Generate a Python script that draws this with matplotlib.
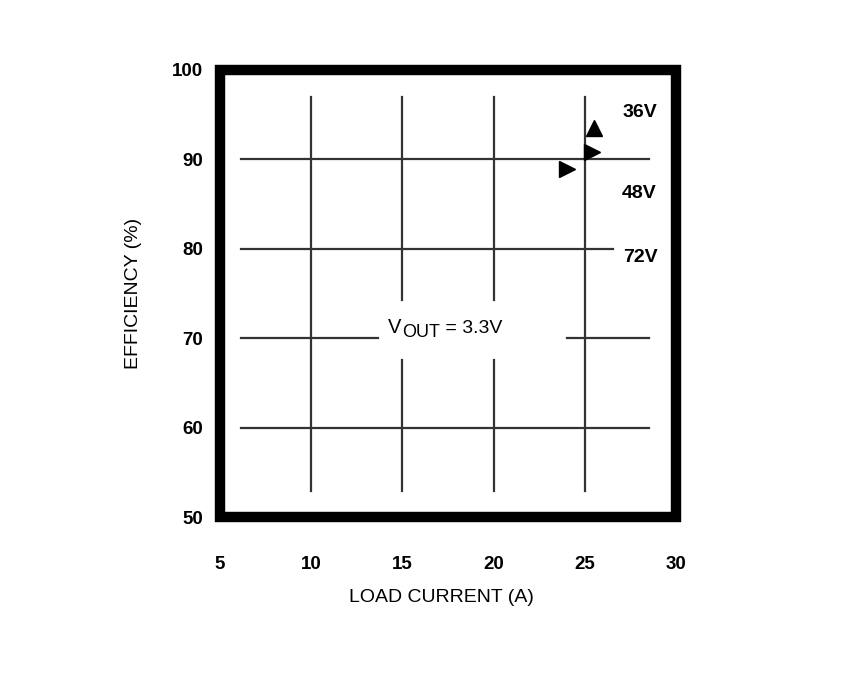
import matplotlib
matplotlib.use("Agg")
import matplotlib.pyplot as plt
from matplotlib.patches import Rectangle
from matplotlib.transforms import offset_copy

plt.rcParams['font.family'] = ['Liberation Sans', 'DejaVu Sans']

# --- axis ticks ---
x_ticks = [5, 10, 15, 20, 25, 30]
y_ticks = [50, 60, 70, 80, 90, 100]

# --- grid segments (as drawn in the datasheet) ---
v_grid_x = [10, 15, 20, 25]
v_grid_span = (52.9, 97.0)
v_gap_x = [15, 20]          # vertical lines broken around the label
v_gap = (67.6, 74.3)

h_grid_y = [60, 70, 80, 90]
h_grid_span = (6.15, 28.55)
h_80_end = 26.55
h_70_gap = (13.66, 24.02)

# --- markers (arrows pointing to the curves) ---
up_marker = [(25.5, 93.5)]
right_markers = [(25.4, 90.8), (24.0, 88.9)]

# --- curve labels ---
curve_labels = ["36V", "48V", "72V"]
curve_label_x = [28.0, 28.0, 28.05]
curve_label_y = [95.2, 86.2, 79.0]

fig = plt.figure(figsize=(8.48, 6.91), dpi=100)
ax = fig.add_axes([0.2594, 0.2518, 0.5377, 0.6469])
ax.set_xlim(5, 30)
ax.set_ylim(50, 100)

grid_kw = dict(color='#333333', lw=1.6, zorder=1)

# vertical grid
for x in v_grid_x:
    if x in v_gap_x:
        ax.plot([x, x], [v_grid_span[0], v_gap[0]], **grid_kw)
        ax.plot([x, x], [v_gap[1], v_grid_span[1]], **grid_kw)
    else:
        ax.plot([x, x], list(v_grid_span), **grid_kw)

# horizontal grid
for y in h_grid_y:
    if y == 80:
        ax.plot([h_grid_span[0], h_80_end], [y, y], **grid_kw)
    elif y == 70:
        ax.plot([h_grid_span[0], h_70_gap[0]], [y, y], **grid_kw)
        ax.plot([h_70_gap[1], h_grid_span[1]], [y, y], **grid_kw)
    else:
        ax.plot(list(h_grid_span), [y, y], **grid_kw)

# markers
ax.plot([p[0] for p in up_marker], [p[1] for p in up_marker], '^',
        color='black', ms=11, zorder=3)
ax.plot([p[0] for p in right_markers], [p[1] for p in right_markers], '>',
        color='black', ms=11, zorder=3)

for lab, lx, ly in zip(curve_labels, curve_label_x, curve_label_y):
    ax.text(lx, ly, lab, fontsize=14, fontweight='bold', ha='center', va='center')

# VOUT = 3.3V label built from pieces so "OUT" sits a bit low
vx, vy = 14.23, 70.63
renderer = fig.canvas.get_renderer()
t1 = ax.text(vx, vy, 'V', fontsize=14.5, ha='left', va='baseline')
w1 = t1.get_window_extent(renderer).width
t2 = ax.text(vx, vy, 'OUT', fontsize=13,
             transform=offset_copy(ax.transData, fig=fig, x=w1 * 0.72, y=-4.5 * 0.72, units='points'),
             ha='left', va='baseline')
w2 = t2.get_window_extent(renderer).width
ax.text(vx, vy, ' = 3.3V', fontsize=14,
        transform=offset_copy(ax.transData, fig=fig, x=(w1 + w2) * 0.72, y=0, units='points'),
        ha='left', va='baseline')

# frame
for s in ax.spines.values():
    s.set_visible(False)
ax.add_patch(Rectangle((0, 0), 1, 1, transform=ax.transAxes, fill=False,
                       lw=7.5, ec='black', joinstyle='miter', clip_on=False, zorder=4))

ax.set_xticks(x_ticks)
ax.set_yticks(y_ticks)
ax.tick_params(length=0)
ax.tick_params(axis='x', pad=28)
ax.tick_params(axis='y', pad=12)
for t in ax.get_xticklabels() + ax.get_yticklabels():
    t.set_fontsize(13.5)
    t.set_fontweight('bold')

fig.text(441 / 848, 1 - 597 / 691, 'LOAD CURRENT (A)', fontsize=14,
         ha='center', va='center')
fig.text(133 / 848, 1 - 293 / 691, 'EFFICIENCY (%)', fontsize=14,
         ha='center', va='center', rotation=90)

fig.savefig('out.png', dpi=100)
